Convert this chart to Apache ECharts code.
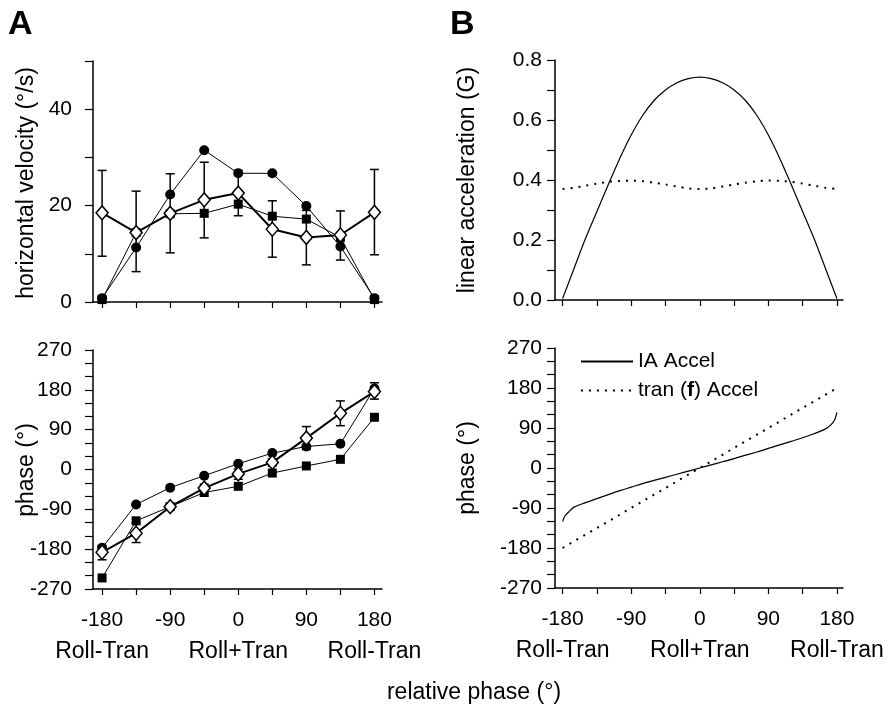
<!DOCTYPE html>
<html>
<head>
<meta charset="utf-8">
<script src="https://cdn.jsdelivr.net/npm/echarts@6/dist/echarts.min.js"></script>
<style>
    html, body {margin: 0; padding: 0; background: #fff}
    #app {width: 890px; height: 704px}
</style>
</head>
<body>
<div id="app"></div>
<script>
    //x轴刻度(相对相位)
    var phaseTicks = [-180, -135, -90, -45, 0, 45, 90, 135, 180]
    var phaseLabels = [-180, -90, 0, 90, 180]
    var conditionNames = {'-180': 'Roll-Tran', '0': 'Roll+Tran', '180': 'Roll-Tran'}

    //y轴刻度
    var velTicks = [0, 10, 20, 30, 40, 50]
    var velLabels = [0, 20, 40]
    var phTicks = [-270, -240, -210, -180, -150, -120, -90, -60, -30, 0, 30, 60, 90, 120, 150, 180, 210, 240, 270]
    var phLabels = [-270, -180, -90, 0, 90, 180, 270]
    var accTicks = [0, 0.1, 0.2, 0.3, 0.4, 0.5, 0.6, 0.7, 0.8]
    var accLabels = [0, 0.2, 0.4, 0.6, 0.8]

    //A 水平速度
    var velCircle = [0.8, 11.3, 22.3, 31.5, 26.7, 26.7, 19.9, 11.5, 0.8]
    var velSquare = [0.5, 14.4, 18.3, 18.4, 20.3, 17.8, 17.2, 13.4, 0.5]
    var velDiamond = [18.5, 14.4, 18.4, 21.2, 22.6, 15.1, 13.4, 13.9, 18.6]
    var velDiamondLow = [9.5, 6.3, 10.2, 13.3, 17.9, 9.3, 7.7, 8.7, 9.8]
    var velDiamondHigh = [27.3, 23, 26.6, 29, 27.3, 21, 19, 18.9, 27.5]

    //A 相位
    var phCircle = [-177, -79, -41, -14, 13, 37, 52, 58, 183]
    var phSquare = [-245, -116, -84, -52, -38, -8, 8, 23, 118]
    var phDiamond = [-187, -144, -84, -42, -10, 16, 71, 127, 176]
    var phDiamondLow = [-204, -165, -90, -50, -22, 8, 45, 99, 159]
    var phDiamondHigh = [-172, -121, -78, -33, 1, 24, 97, 155, 196]

    //B 线加速度
    var accX = [-180, -165, -150, -135, -120, -105, -90, -75, -60, -45, -30, -15, 0, 15, 30, 45, 60, 75, 90, 105, 120, 135, 150, 165, 180]
    var accIA = [0.005, 0.105, 0.205, 0.295, 0.385, 0.472, 0.55, 0.615, 0.665, 0.70, 0.724, 0.738, 0.743, 0.738, 0.724, 0.70, 0.665, 0.615, 0.55, 0.472, 0.385, 0.295, 0.205, 0.105, 0.005]
    var accTran = [0.370, 0.374, 0.381, 0.388, 0.394, 0.397, 0.398, 0.396, 0.391, 0.385, 0.378, 0.372, 0.370, 0.372, 0.378, 0.385, 0.391, 0.396, 0.398, 0.397, 0.394, 0.388, 0.381, 0.374, 0.370]

    //B 相位
    var phIAX = [-180, -177, -172, -165, -150, -135, -120, -105, -90, -75, -60, -45, -30, -15, 0, 15, 30, 45, 60, 75, 90, 105, 120, 135, 150, 165, 172, 177, 180]
    var phIA = [-120, -108, -99, -88, -78, -69, -60, -51, -43, -35, -28, -21, -14, -7, 0, 7, 14, 21, 29, 36, 44, 52, 60, 68, 77, 88, 97, 108, 125]
    var phTranX = [-180, -90, 0, 90, 180]
    var phTran = [-180, -90, 0, 90, 180]

    var font = 'Liberation Sans'

    var zip = (xs, ys) => xs.map((x, i) => [x, ys[i]])
    var zip3 = (xs, lo, hi) => xs.map((x, i) => [x, lo[i], hi[i]])

    var app = {
        el: document.getElementById('app')
    }
    var chart = echarts.init(app.el, null, {renderer: 'canvas'})

    //x轴
    var makeX = (gridIndex, min, max, showLabel) => ({
        type: 'value',
        gridIndex: gridIndex,
        min: min,
        max: max,
        splitLine: {show: false},
        axisLine: {show: true, onZero: false, lineStyle: {color: '#000', width: 1.5}},
        axisTick: {show: true, customValues: phaseTicks, length: 6, lineStyle: {color: '#000', width: 1.2}},
        axisLabel: {
            show: showLabel,
            customValues: phaseLabels,
            margin: 20,
            formatter: (v) => {
                var name = conditionNames[String(v)] || ' '
                return `{n|${v}}\n{r|${name}}`
            },
            rich: {
                n: {fontSize: 21, lineHeight: 22, fontFamily: font, color: '#000'},
                r: {fontSize: 23, lineHeight: 42, fontFamily: font, color: '#000'}
            }
        }
    })

    //y轴
    var makeY = (gridIndex, min, max, ticks, labels, margin, fmt) => ({
        type: 'value',
        gridIndex: gridIndex,
        min: min,
        max: max,
        splitLine: {show: false},
        axisLine: {show: true, onZero: false, lineStyle: {color: '#000', width: 1.5}},
        axisTick: {show: true, customValues: ticks, length: 8, lineStyle: {color: '#000', width: 1.2}},
        axisLabel: {
            customValues: labels,
            margin: margin,
            color: '#000',
            fontSize: 21,
            fontFamily: font,
            formatter: fmt
        }
    })

    //误差线
    var errorBar = (params, api) => {
        var x = api.value(0)
        var top = api.coord([x, api.value(2)])
        var bottom = api.coord([x, api.value(1)])
        var half = 4.5
        var style = {stroke: '#000', lineWidth: 1.5}
        return {
            type: 'group',
            children: [
                {type: 'line', shape: {x1: top[0], y1: top[1], x2: bottom[0], y2: bottom[1]}, style: style},
                {type: 'line', shape: {x1: top[0] - half, y1: top[1], x2: top[0] + half, y2: top[1]}, style: style},
                {type: 'line', shape: {x1: bottom[0] - half, y1: bottom[1], x2: bottom[0] + half, y2: bottom[1]}, style: style}
            ]
        }
    }

    var circleSeries = (xi, data) => ({
        type: 'line', xAxisIndex: xi, yAxisIndex: xi, data: data,
        symbol: 'circle', symbolSize: 10,
        itemStyle: {color: '#000'},
        lineStyle: {color: '#000', width: 1}
    })
    var squareSeries = (xi, data) => ({
        type: 'line', xAxisIndex: xi, yAxisIndex: xi, data: data,
        symbol: 'rect', symbolSize: 9,
        itemStyle: {color: '#000'},
        lineStyle: {color: '#000', width: 1}
    })
    var diamondSeries = (xi, data) => ({
        type: 'line', xAxisIndex: xi, yAxisIndex: xi, data: data,
        symbol: 'diamond', symbolSize: [12, 14],
        itemStyle: {color: '#fff', borderColor: '#000', borderWidth: 1.5},
        lineStyle: {color: '#000', width: 2}
    })
    var errorSeries = (xi, data) => ({
        type: 'custom', xAxisIndex: xi, yAxisIndex: xi, data: data,
        renderItem: errorBar
    })

    var ylabel = (text, x, y) => ({
        type: 'text', x: x, y: y, rotation: Math.PI / 2,
        style: {text: text, fontSize: 23, fontFamily: font, fill: '#000', align: 'center', verticalAlign: 'middle'}
    })

    chart.setOption({
        animation: false,
        backgroundColor: '#fff',
        grid: [
            {left: 93, top: 61, width: 289, height: 241},
            {left: 93, top: 350, width: 289, height: 239},
            {left: 555, top: 60, width: 288, height: 240},
            {left: 555, top: 348, width: 288, height: 240}
        ],
        xAxis: [
            makeX(0, -192, 190, false),
            makeX(1, -192, 190, true),
            makeX(2, -190, 188, false),
            makeX(3, -190, 188, true)
        ],
        yAxis: [
            makeY(0, 0, 50, velTicks, velLabels, 21),
            makeY(1, -270, 270, phTicks, phLabels, 21),
            makeY(2, 0, 0.8, accTicks, accLabels, 13, (v) => v.toFixed(1)),
            makeY(3, -270, 270, phTicks, phLabels, 13)
        ],
        legend: {
            data: ['IA Accel', 'tran (f) Accel'],
            left: 575,
            top: 346,
            orient: 'vertical',
            itemWidth: 52,
            itemHeight: 14,
            itemGap: 8,
            itemStyle: {color: 'rgba(0,0,0,0)', borderWidth: 0, opacity: 0},
            textStyle: {
                fontSize: 21, fontFamily: font, color: '#000',
                rich: {b: {fontSize: 21, fontFamily: font, fontWeight: 'bold', color: '#000'}}
            },
            formatter: (name) => name === 'tran (f) Accel' ? 'tran ({b|f}) Accel' : name
        },
        graphic: [
            {type: 'text', x: 8, y: 25, style: {text: 'A', fontSize: 34, fontWeight: 'bold', fontFamily: font, fill: '#000', verticalAlign: 'middle'}},
            {type: 'text', x: 450, y: 25, style: {text: 'B', fontSize: 34, fontWeight: 'bold', fontFamily: font, fill: '#000', verticalAlign: 'middle'}},
            ylabel('horizontal velocity (°/s)', 27, 183),
            ylabel('phase (°)', 27, 470),
            ylabel('linear acceleration (G)', 468, 180),
            ylabel('phase (°)', 468, 468),
            {type: 'text', x: 474, y: 693, style: {text: 'relative phase (°)', fontSize: 23, fontFamily: font, fill: '#000', align: 'center', verticalAlign: 'middle'}}
        ],
        series: [
            circleSeries(0, zip(phaseTicks, velCircle)),
            squareSeries(0, zip(phaseTicks, velSquare)),
            errorSeries(0, zip3(phaseTicks, velDiamondLow, velDiamondHigh)),
            diamondSeries(0, zip(phaseTicks, velDiamond)),

            circleSeries(1, zip(phaseTicks, phCircle)),
            squareSeries(1, zip(phaseTicks, phSquare)),
            errorSeries(1, zip3(phaseTicks, phDiamondLow, phDiamondHigh)),
            diamondSeries(1, zip(phaseTicks, phDiamond)),

            {
                name: 'IA Accel mag', type: 'line', xAxisIndex: 2, yAxisIndex: 2,
                data: zip(accX, accIA), symbol: 'none', smooth: 0.3,
                lineStyle: {color: '#000', width: 1.2}
            },
            {
                name: 'tran Accel mag', type: 'line', xAxisIndex: 2, yAxisIndex: 2,
                data: zip(accX, accTran), symbol: 'none', smooth: 0.3,
                lineStyle: {color: '#000', width: 2, type: [2, 6]}
            },
            {
                name: 'IA Accel', type: 'line', xAxisIndex: 3, yAxisIndex: 3,
                data: zip(phIAX, phIA), symbol: 'none', smooth: 0.3,
                itemStyle: {color: '#000'},
                lineStyle: {color: '#000', width: 1.2}
            },
            {
                name: 'tran (f) Accel', type: 'line', xAxisIndex: 3, yAxisIndex: 3,
                data: zip(phTranX, phTran), symbol: 'none',
                itemStyle: {color: '#000'},
                lineStyle: {color: '#000', width: 2, type: [2, 6]}
            }
        ]
    })
</script>
</body>
</html>
